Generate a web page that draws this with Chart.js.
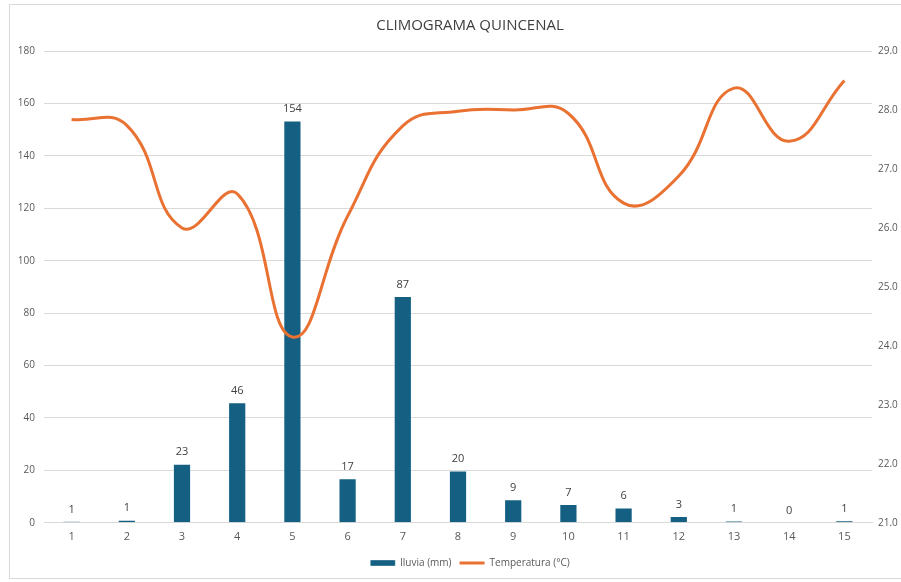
<!DOCTYPE html>
<html>
<head>
<meta charset="utf-8">
<script src="https://cdn.jsdelivr.net/npm/chart.js@4"></script>
<style>
  body { margin: 0; background: #fff; overflow: hidden; }
  #wrap { position: absolute; left: 9px; top: 4px; width: 920px; height: 573px; border: 1px solid #d9d9d9; }
</style>
</head>
<body>
<div id="wrap"><canvas id="chart" width="920" height="573"></canvas></div>
<script>
/* global Chart */

const quincenas = ['1', '2', '3', '4', '5', '6', '7', '8', '9', '10', '11', '12', '13', '14', '15']
const lluvia = [0.6, 1.2, 22.5, 46, 153.5, 17, 86.5, 20, 9, 7.2, 5.8, 2.6, 0.8, 0.3, 0.9]
const temperatura = [27.84, 27.74, 26.0, 26.58, 24.15, 26.2, 27.73, 27.98, 28.0, 27.94, 26.42, 26.88, 28.37, 27.47, 28.5]

const AZUL = '#156082'
const NARANJA = '#E97132'
const GRIS = '#595959'
const FONT = "'Open Sans', 'Liberation Sans', sans-serif"

// etiquetas encima de cada barra
const etiquetas = {
  id: 'etiquetas',
  afterDatasetsDraw (chart) {
    const ctx = chart.ctx
    const meta = chart.getDatasetMeta(0)
    ctx.save()
    ctx.font = '11px ' + FONT
    ctx.fillStyle = '#404040'
    ctx.textAlign = 'center'
    ctx.textBaseline = 'bottom'
    meta.data.forEach((bar, i) => {
      ctx.fillText(Math.round(lluvia[i]), bar.x, bar.y - 6)
    })
    ctx.restore()
  }
}

new Chart(document.getElementById('chart').getContext('2d'), {
  data: {
    labels: quincenas,
    datasets: [
      {
        type: 'bar',
        label: 'lluvia (mm)',
        data: lluvia,
        backgroundColor: AZUL,
        borderColor: 'rgba(255,255,255,0.35)',
        borderWidth: 1,
        barPercentage: 0.33,
        categoryPercentage: 1,
        pointStyle: 'rect',
        yAxisID: 'y',
        order: 2
      },
      {
        type: 'line',
        label: 'Temperatura (°C)',
        data: temperatura,
        borderColor: NARANJA,
        backgroundColor: NARANJA,
        borderWidth: 3,
        pointRadius: 0,
        pointStyle: 'line',
        tension: 0.45,
        yAxisID: 'y1',
        order: 1
      }
    ]
  },
  options: {
    responsive: false,
    animation: false,
    layout: { padding: { left: 0, right: 0, top: 0, bottom: 0 } },
    plugins: {
      title: {
        display: true,
        text: 'CLIMOGRAMA QUINCENAL',
        color: '#404040',
        font: { family: FONT, size: 15, weight: 'normal' },
        padding: { top: 12, bottom: 16 }
      },
      legend: {
        position: 'bottom',
        labels: {
          color: GRIS,
          font: { family: FONT, size: 10 },
          usePointStyle: true,
          pointStyleWidth: 25,
          boxWidth: 25,
          boxHeight: 6,
          padding: 8,
          sort: (a, b) => a.datasetIndex - b.datasetIndex
        }
      },
      tooltip: { enabled: false }
    },
    scales: {
      x: {
        grid: { display: false, drawTicks: false },
        border: { color: '#d9d9d9' },
        ticks: { color: GRIS, font: { family: FONT, size: 11 }, padding: 7 }
      },
      y: {
        position: 'left',
        min: 0,
        max: 180,
        ticks: { stepSize: 20, color: GRIS, font: { family: FONT, size: 10 }, padding: 9 },
        grid: { color: '#d9d9d9', drawTicks: false },
        border: { display: false },
        afterFit (scale) { scale.width = 34 }
      },
      y1: {
        position: 'right',
        min: 21,
        max: 29,
        ticks: {
          stepSize: 1,
          color: GRIS,
          font: { family: FONT, size: 10 },
          padding: 6,
          callback: v => v.toFixed(1)
        },
        grid: { display: false, drawTicks: false },
        border: { display: false },
        afterFit (scale) { scale.width = 58 }
      }
    }
  },
  plugins: [etiquetas]
})
</script>
</body>
</html>
